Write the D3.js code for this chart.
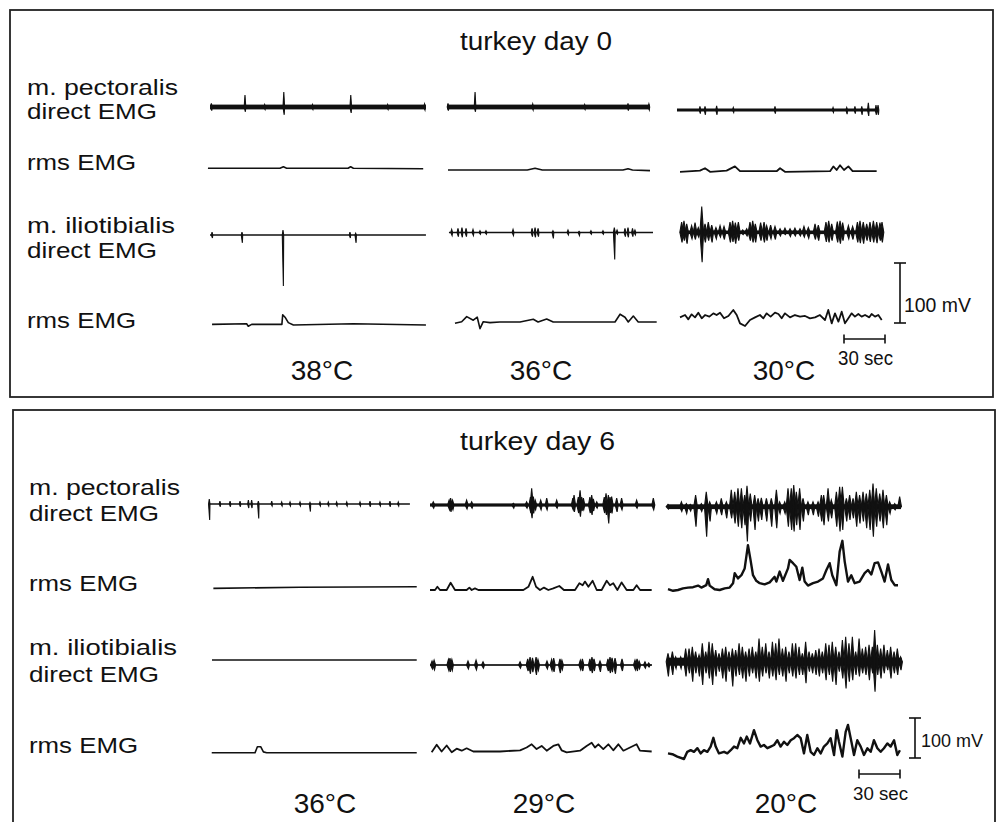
<!DOCTYPE html>
<html>
<head>
<meta charset="utf-8">
<script src="https://cdn.jsdelivr.net/npm/d3@7"></script>
<style>
  body { margin: 0; background: #fff; }
  text { font-family: "Liberation Sans", Arial, Helvetica, sans-serif; fill: #111; }
</style>
</head>
<body>
<div id="chart"></div>
<script>
// ---- text ----
const titles = ["turkey day 0", "turkey day 6"];
const temps0 = ["38°C", "36°C", "30°C"];
const temps6 = ["36°C", "29°C", "20°C"];
const rowLabels = ["m. pectoralis", "direct EMG", "rms EMG", "m. iliotibialis", "direct EMG", "rms EMG"];
const barMV = 100, barSec = 30;

// ---- direct EMG: spikes [t (s), up (mV), down (mV)] ----
const d0_pect_38 = [[1,6,6],[25.6,20,8],[40,4,4],[54,25,13],[75,4,4],[103,20,10],[130,4,4],[157,5,5]];
const d0_pect_36 = [[0,6,6],[19.8,25,8],[62,5,5],[100,4,4],[131.7,6,6],[147,5,5]];
const d0_pect_30 = [[14.6,6,6],[18.3,6,8],[26.8,7,8],[39,4,4],[69.5,6,6],[112,4,4],[122,4,7],[128,6,6],[133,6,8],[137.8,12,10],[143.4,8,8],[144.9,8,8]];
const d0_ilio_38 = [[1.5,5,5],[23.4,5,13],[53.4,8,85],[102.4,5,5],[106.6,3,13]];
const d0_ilio_36 = [[2.7,5,5],[7.3,7,7],[10.2,8,8],[13.2,7,7],[18.3,5,5],[23.4,3,3],[27.8,3,3],[47.6,5,5],[61.5,7,7],[63.7,8,8],[65.9,7,7],[76.8,3,10],[87.8,4,4],[95.9,2,5],[104.6,3,3],[113.4,3,3],[121.7,8,45],[123.7,4,3],[129.5,7,7],[131.7,8,8],[135,7,7],[136.8,4,4]];
const d0_ilio_30 = [[1.2,17,17],[2.9,19,14],[4.9,14,19],[8.5,11,11],[11,16,12],[13.4,8,8],[15.9,43,50],[18.3,14,17],[20.7,17,14],[23.2,12,17],[26.3,8,11],[29.3,11,8],[32.2,10,12],[36.6,17,17],[38.5,19,16],[40.5,16,19],[42.7,17,14],[45.9,4,4],[48.8,6,6],[51.2,17,14],[53.2,19,17],[55.1,14,17],[59,16,14],[61.5,17,17],[63.4,11,14],[66.3,12,11],[69.5,10,12],[73.2,6,6],[76.8,7,4],[80.5,6,7],[84.1,7,6],[87.8,6,6],[90.7,10,8],[93.9,8,10],[98.8,14,12],[101.2,12,14],[106.8,17,16],[108.8,19,17],[111,14,14],[115.1,18,17],[117.1,19,19],[119,16,14],[123.2,11,11],[126.3,10,12],[129.8,17,17],[131.7,19,18],[134.1,17,19],[136.6,14,14],[139,17,16],[141.5,19,17],[143.9,17,18],[146.3,16,14],[147.8,17,17]];

const d6_pect_36 = [[0.2,12,40],[8,7,7],[15.4,7,7],[22.7,7,7],[28.8,10,10],[31.2,10,10],[36.1,7,36],[45.9,7,5],[53.2,5,5],[59.3,5,5],[66.6,5,5],[73.9,4,19],[81.2,5,5],[87.3,5,5],[93.4,5,5],[100.8,5,5],[110.5,5,5],[117.8,7,7],[125.1,5,5],[132.4,7,7],[138.5,5,5]];
const d6_pect_29 = [[2.4,8,8],[14,12,12],[15.1,17,17],[16.5,12,12],[26.8,12,10],[30.5,8,8],[61,4,8],[70.7,8,8],[73.5,20,20],[74.4,42,33],[75.6,21,21],[77,12,12],[81,12,12],[85.4,17,12],[92.7,12,8],[104.5,17,12],[105.4,25,17],[108.5,20,20],[109.8,37,29],[111,20,15],[112.2,17,12],[117,20,20],[118.3,25,25],[119.5,15,15],[122,8,8],[127.5,20,20],[128.8,29,25],[130.5,25,46],[131.7,20,20],[132.9,21,21],[136.6,17,17],[140.2,17,12],[151.2,12,8],[163.4,17,12]];
const d6_pect_20 = [[0,6,6],[9.8,12,12],[13.4,8,17],[16.3,6,11],[20.2,29,50],[24.4,8,12],[28,37,75],[30.5,12,37],[35.4,12,17],[39,21,21],[42.7,12,29],[46.3,42,29],[48.8,37,42],[51.2,46,50],[53.7,46,54],[56.1,29,46],[57.8,52,87],[60.2,33,37],[63.4,29,58],[65.9,21,37],[68.3,22,33],[72,21,37],[75.6,21,50],[79.3,42,54],[81.7,12,17],[85.4,12,17],[87.8,46,50],[90.2,46,58],[92,54,62],[93.9,37,46],[96.3,46,58],[98.8,21,37],[102.4,12,21],[106.1,12,21],[109.8,12,25],[112.2,29,37],[113.9,29,46],[117.1,46,37],[119.5,17,29],[123.2,37,50],[125.6,50,62],[127.6,50,58],[130.5,21,37],[132.9,29,33],[135.4,21,29],[137.8,37,50],[140.2,29,42],[142.7,37,37],[145.1,33,54],[147.6,42,58],[150,58,75],[152.4,46,50],[154.9,33,37],[157.3,42,54],[159.8,29,46],[162.2,12,17],[165.9,8,8],[169.5,25,4]];
const d6_ilio_36 = [];
const d6_ilio_29 = [[1.5,10,10],[3,12,12],[13.5,14,14],[14.6,17,17],[16,14,14],[27.8,10,10],[33.7,12,12],[38.8,8,8],[65.9,8,8],[71.5,15,15],[73.2,20,22],[75,18,18],[77.6,20,25],[79,14,14],[85.6,10,10],[89,14,14],[90.5,17,17],[95.1,15,20],[96.5,12,12],[110,12,12],[111.5,15,15],[117,15,15],[118.5,20,20],[120,15,15],[124.4,10,17],[130.2,15,15],[131.7,20,20],[133.2,18,18],[135.4,17,22],[140.5,15,15],[150,12,12],[151.5,15,15],[153,10,10],[157.3,8,8],[160,5,5]];
const d6_ilio_20 = [[0,21,37],[3.2,25,33],[5.6,12,17],[9.3,12,17],[12.9,33,37],[15.4,33,29],[17.8,37,50],[20.2,25,29],[22.7,17,37],[25.1,46,58],[27.6,25,29],[30,50,42],[32.4,46,58],[34.9,29,37],[37.3,21,25],[39.8,33,42],[42.2,37,50],[44.6,25,25],[47.1,33,62],[49.5,29,37],[52,46,33],[54.4,37,42],[56.8,25,50],[59.3,33,37],[61.7,37,29],[64.2,25,42],[66.6,58,50],[69,37,37],[71.5,46,29],[73.9,25,42],[76.4,50,37],[78.8,46,46],[81.2,58,33],[83.7,33,37],[86.1,37,50],[88.5,25,29],[91,46,37],[93.4,46,42],[95.9,37,33],[98.3,21,33],[100.7,50,54],[103.2,25,25],[105.6,21,29],[108.1,29,33],[110.5,33,37],[112.9,25,29],[115.4,46,46],[117.8,42,33],[120.2,50,50],[122.7,37,58],[125.1,25,25],[127.6,54,42],[130,62,67],[132.4,46,50],[134.9,62,46],[137.3,25,33],[139.8,58,37],[142.2,33,29],[144.6,37,33],[147.1,42,46],[149.5,37,29],[151.2,79,75],[153.2,42,33],[155.6,33,42],[158,42,29],[160.5,29,21],[162.9,37,42],[165.4,25,29],[167.8,33,33],[170.2,12,21]];

// recording spans [start, end] (s) and background noise (mV)
const d0_pectSpan = [[0,158],[-0.7,147.8],[-2.2,145]];
const d0_ilioSpan = [[0,158],[0.7,150],[0,148.5]];
const d6_pectSpan = [[0,147],[0,164.6],[0,170.5]];
const d6_ilioSpan = [[2.2,152],[0,162.4],[-0.7,171]];
const d0_pectNoise = [4, 4, 2.5];
const d0_ilioNoise = [0, 0, 3];
const d6_pectNoise = [0, 4, 6];
const d6_ilioNoise = [0, 1, 10];

// ---- rms EMG: [t (s), mV] ----
const d0_pectRms_38 = [[-1.5,3],[51.2,3],[53.7,5.5],[56.1,3],[101,3],[102.9,5.5],[104.9,3],[156,2]];
const d0_pectRms_36 = [[0,0],[58,0],[63.7,3],[69,0],[128,0],[131.7,2],[135,0],[147.8,-1]];
const d0_pectRms_30 = [[0,-3],[14.6,-1],[18.3,3],[22,-3],[34.1,-1],[40.2,6],[43.9,-2],[70.7,-2],[73.2,3],[76.8,-3],[109.8,-2],[112.2,6],[114.6,0],[117.1,8],[120,0],[123.2,6],[126.3,-2],[143.9,-2]];
const d0_ilioRms_38 = [[1.5,-4],[26.8,-3],[28,-7],[30.5,-4],[51.2,-4],[52.6,-4],[53.2,12],[54.9,8],[57.3,-1],[61,-5],[104.9,-3],[158,-5]];
const d0_ilioRms_36 = [[5.1,-2],[10,0.5],[13.7,9],[18.5,3],[21.4,8],[23.4,-11],[25.8,0.5],[30.7,-1],[38,0],[52.7,0],[62.4,4.5],[65.9,0],[72.2,5],[77,0],[122.2,0],[125.9,13],[129.5,8],[131.9,0],[135.6,10],[139.2,0],[145.4,0],[152.7,0]];
const d0_ilioRms_30 = [[0,4.4],[3.7,8.3],[6.1,1.1],[8.5,9.4],[11,4.4],[13.4,12.2],[15.9,2.8],[18.3,8.3],[21.5,5.6],[24.4,11.1],[26.8,8.3],[29.3,12.2],[32.2,2.8],[35.4,6.7],[39,16.7],[41.5,8.3],[43.9,-5.6],[47.6,-10],[51.2,0],[54.9,4.4],[58.5,8.3],[61,2.8],[63.4,11.1],[66.3,5.6],[69.5,12.2],[72,10],[74.4,2.8],[76.8,11.1],[80.5,4.4],[84.1,8.3],[87.8,5.6],[91.5,6.7],[95.1,2.8],[98.8,4.4],[102.4,8.3],[106.1,0],[108.5,16.7],[111,-5.6],[113.4,11.1],[115.9,-2.8],[118.3,13.9],[120.7,-5.6],[123.2,2.8],[125.6,11.1],[128,5.6],[130.5,10],[132.9,5.6],[135.4,8.3],[138.5,4.4],[140.2,10],[142.7,5.6],[145.1,8.3],[147.6,0]];

const d6_pectRms_36 = [[3.2,4],[66.6,7],[152,8]];
const d6_pectRms_29 = [[0,0],[3.7,0],[5.4,8],[7.3,0],[12.2,0],[15.1,18],[18.3,0],[26.8,0],[28.8,6],[30.5,0],[32.9,4],[35.4,0],[68.3,0],[72,8],[75.1,33],[77.6,8],[80.5,0],[83.4,6],[86.6,0],[90.2,4],[94.6,10],[98,0],[106.1,0],[109.3,17],[111.7,12],[113.4,21],[115.9,8],[119,23],[122,0],[125.6,0],[129.3,23],[131.7,12],[134.1,17],[137.1,0],[140.2,19],[143.9,0],[148.8,0],[151.2,12],[153.7,0],[162.2,0]];
const d6_pectRms_20 = [[0,2],[3.7,-2],[7.3,0],[11,4],[14.6,6],[18.3,7],[22,11],[24.4,6],[28,12],[29.3,27],[30.5,11],[34.1,2],[37.8,0],[41.5,4],[45.1,6],[47.6,17],[48.8,42],[51.2,29],[53.7,37],[56.1,54],[58.5,112],[60.2,79],[62.2,37],[64.6,23],[67.1,17],[70.7,14],[74.4,19],[78,33],[79.3,21],[81.7,46],[84.1,23],[87.8,54],[89,75],[91.5,67],[93.9,58],[96.3,25],[98.3,56],[100,21],[102.4,11],[106.1,17],[109.8,21],[113.4,29],[115.9,50],[118.3,67],[120.2,37],[123.2,12],[125.6,96],[127.6,123],[129.3,71],[131.7,21],[134.1,37],[136.6,17],[140.2,21],[143.9,42],[146.3,50],[148.8,39],[151.2,67],[153.7,69],[156.1,46],[158.5,21],[161,64],[163.4,25],[165.9,12],[168.3,12]];
const d6_ilioRms_36 = [[2,0],[33.7,0],[35.4,15],[37.8,15],[39.8,2],[42.2,0],[152,0]];
const d6_ilioRms_29 = [[1.2,-2],[4.9,17],[8.5,0],[12.2,15],[15.9,-2],[19.5,7],[23.2,2],[26.8,8],[31.7,0],[51.2,0],[65.9,3],[70.7,10],[74.4,18],[78,6],[81.7,14],[85.4,2],[90.2,14],[93.9,18],[96.3,3],[100,-2],[109.8,2],[114.6,14],[118.3,22],[120.7,10],[123.2,18],[126.8,6],[130.5,18],[134.1,3],[137.8,18],[141.5,2],[151.2,18],[153.6,2],[162.2,0]];
const d6_ilioRms_20 = [[0,4],[3.2,2],[6.8,-4],[11.7,-10],[14.1,8],[16.6,12],[19,8],[21.5,17],[23.9,4],[26.3,12],[28.8,8],[31.2,21],[33.2,43],[34.9,21],[37.3,4],[41,8],[43.4,4],[45.9,12],[48.3,21],[50.7,17],[53.2,43],[55.6,29],[57.6,46],[60,29],[62.9,62],[65.4,37],[67.8,21],[70.2,25],[72.7,17],[75.1,21],[77.6,25],[80,37],[82.4,21],[84.9,33],[87.3,25],[89.8,37],[92.2,42],[94.6,50],[97.1,42],[99.5,4],[101.9,50],[104.4,8],[106.8,0],[109.3,17],[111.7,4],[114.1,21],[116.6,29],[119,42],[121.5,0],[123.4,62],[125.1,33],[127.6,-4],[130,58],[131.7,75],[134.2,33],[136.1,0],[138.5,37],[141,21],[143.4,0],[145.9,17],[148.3,8],[150.7,37],[153.2,17],[155.6,8],[158,17],[160.5,29],[162.9,21],[165.4,37],[167.8,0],[169.7,12]];

// ---- layout (pixels) ----
const pxPerSec = 41 / 30;
const layout = [
  { box: [10, 10, 993, 397], titleX: 536, titleY: 50, titleLen: 152,
    colX: [210, 448, 680], tempX: [322, 541, 784], tempY: 380, pxPerMV: 0.6,
    rowY: [[107,107,110], [170,170,170], [235,232.5,232.3], [322,322,320]],
    labelX: 27, labelY: [95, 119, 170, 233, 258, 328],
    spikeW: [[0.8,0.8,0.8], [0.7,0.9,1.8]], rmsW: [1.6, 1.6, 1.8],
    vBar: [900, 323], hBar: [844, 339], vText: [904, 312, 67, 20], hText: [838, 365, 55, 20] },
  { box: [13, 410, 995, 830], titleX: 537.5, titleY: 450, titleLen: 155,
    colX: [209, 430, 668], tempX: [325, 544, 786], tempY: 813, pxPerMV: 0.4,
    rowY: [[504,505,506.7], [590,590,590], [660,665,661.7], [752.7,751.5,755]],
    labelX: 29, labelY: [495, 520.7, 590.7, 655, 681.7, 753.3],
    spikeW: [[0.7,1.5,1.8], [0.7,1.5,1.8]], rmsW: [1.6, 1.8, 2.4],
    vBar: [915, 758], hBar: [859, 774], vText: [921, 747, 62, 18], hText: [853, 800, 55, 18] }
];
const labelLen = [151, 130, 109, 148, 130, 109];

const panels = [
  { title: titles[0], temps: temps0,
    direct: [[d0_pect_38, d0_pect_36, d0_pect_30], [d0_ilio_38, d0_ilio_36, d0_ilio_30]],
    spans: [d0_pectSpan, d0_ilioSpan], noise: [d0_pectNoise, d0_ilioNoise],
    rms: [[d0_pectRms_38, d0_pectRms_36, d0_pectRms_30], [d0_ilioRms_38, d0_ilioRms_36, d0_ilioRms_30]] },
  { title: titles[1], temps: temps6,
    direct: [[d6_pect_36, d6_pect_29, d6_pect_20], [d6_ilio_36, d6_ilio_29, d6_ilio_20]],
    spans: [d6_pectSpan, d6_ilioSpan], noise: [d6_pectNoise, d6_ilioNoise],
    rms: [[d6_pectRms_36, d6_pectRms_29, d6_pectRms_20], [d6_ilioRms_36, d6_ilioRms_29, d6_ilioRms_20]] }
];

const ink = "#111";
const svg = d3.select("#chart").append("svg")
  .attr("width", 999).attr("height", 822)
  .style("display", "block").style("background", "white");

panels.forEach((p, pi) => {
  const L = layout[pi];
  const g = svg.append("g");

  g.append("rect")
    .attr("x", L.box[0]).attr("y", L.box[1])
    .attr("width", L.box[2] - L.box[0]).attr("height", L.box[3] - L.box[1])
    .attr("fill", "none").attr("stroke", "#222").attr("stroke-width", 1.8);

  g.append("text").attr("x", L.titleX).attr("y", L.titleY)
    .attr("text-anchor", "middle").style("font-size", "25px")
    .attr("textLength", L.titleLen).attr("lengthAdjust", "spacingAndGlyphs")
    .text(p.title);

  rowLabels.forEach((lab, i) => {
    g.append("text").attr("x", L.labelX).attr("y", L.labelY[i])
      .style("font-size", "22px")
      .attr("textLength", labelLen[i]).attr("lengthAdjust", "spacingAndGlyphs")
      .text(lab);
  });

  // mV -> pixel offset from a trace's baseline
  const y = d3.scaleLinear().domain([0, barMV]).range([0, -barMV * L.pxPerMV]);

  p.temps.forEach((tmp, c) => {
    g.append("text").attr("x", L.tempX[c]).attr("y", L.tempY)
      .attr("text-anchor", "middle").style("font-size", "28px").text(tmp);

    const x = d3.scaleLinear().domain([0, barSec]).range([L.colX[c], L.colX[c] + barSec * pxPerSec]);

    // direct EMG rows (0: pectoralis, 1: iliotibialis)
    [0, 1].forEach(m => {
      const base = L.rowY[m * 2][c];
      const span = p.spans[m][c];
      const noise = p.noise[m][c];
      const w = L.spikeW[m][c];
      const tg = g.append("g").attr("transform", `translate(0,${base})`);
      if (noise > 0) {
        tg.append("rect")
          .attr("x", x(span[0])).attr("width", x(span[1]) - x(span[0]))
          .attr("y", y(noise)).attr("height", y(-noise) - y(noise))
          .attr("fill", ink);
      }
      tg.append("line")
        .attr("x1", x(span[0])).attr("x2", x(span[1]))
        .attr("stroke", ink).attr("stroke-width", 1.7);
      tg.selectAll("path.spike").data(p.direct[m][c]).join("path")
        .attr("class", "spike")
        .attr("d", s => {
          const sx = x(s[0]);
          return `M${sx - w},0L${sx},${y(s[1])}L${sx + w},0L${sx + 0.4},${y(-s[2])}Z`;
        })
        .attr("fill", ink).attr("stroke", ink).attr("stroke-width", 1.1)
        .attr("stroke-linejoin", "miter");
    });

    // rms EMG rows
    [0, 1].forEach(m => {
      const base = L.rowY[m * 2 + 1][c];
      const line = d3.line().x(d => x(d[0])).y(d => base + y(d[1]));
      g.append("path").datum(p.rms[m][c])
        .attr("d", line)
        .attr("fill", "none").attr("stroke", ink)
        .attr("stroke-width", L.rmsW[c]).attr("stroke-linejoin", "round");
    });
  });

  // calibration bars
  const yb = L.vBar[1];
  const vg = g.append("g").attr("stroke", ink).attr("stroke-width", 1.6);
  vg.append("line").attr("x1", L.vBar[0]).attr("x2", L.vBar[0]).attr("y1", yb).attr("y2", yb + y(barMV));
  [yb, yb + y(barMV)].forEach(yy => vg.append("line").attr("x1", L.vBar[0] - 6).attr("x2", L.vBar[0] + 6).attr("y1", yy).attr("y2", yy));
  const secW = barSec * pxPerSec;
  vg.append("line").attr("x1", L.hBar[0]).attr("x2", L.hBar[0] + secW).attr("y1", L.hBar[1]).attr("y2", L.hBar[1]);
  [L.hBar[0], L.hBar[0] + secW].forEach(xx => vg.append("line").attr("x1", xx).attr("x2", xx).attr("y1", L.hBar[1] - 4.5).attr("y2", L.hBar[1] + 4.5));

  g.append("text").attr("x", L.vText[0]).attr("y", L.vText[1])
    .style("font-size", L.vText[3] + "px")
    .attr("textLength", L.vText[2]).attr("lengthAdjust", "spacingAndGlyphs")
    .text(barMV + " mV");
  g.append("text").attr("x", L.hText[0]).attr("y", L.hText[1])
    .style("font-size", L.hText[3] + "px")
    .attr("textLength", L.hText[2]).attr("lengthAdjust", "spacingAndGlyphs")
    .text(barSec + " sec");
});
</script>
</body>
</html>
